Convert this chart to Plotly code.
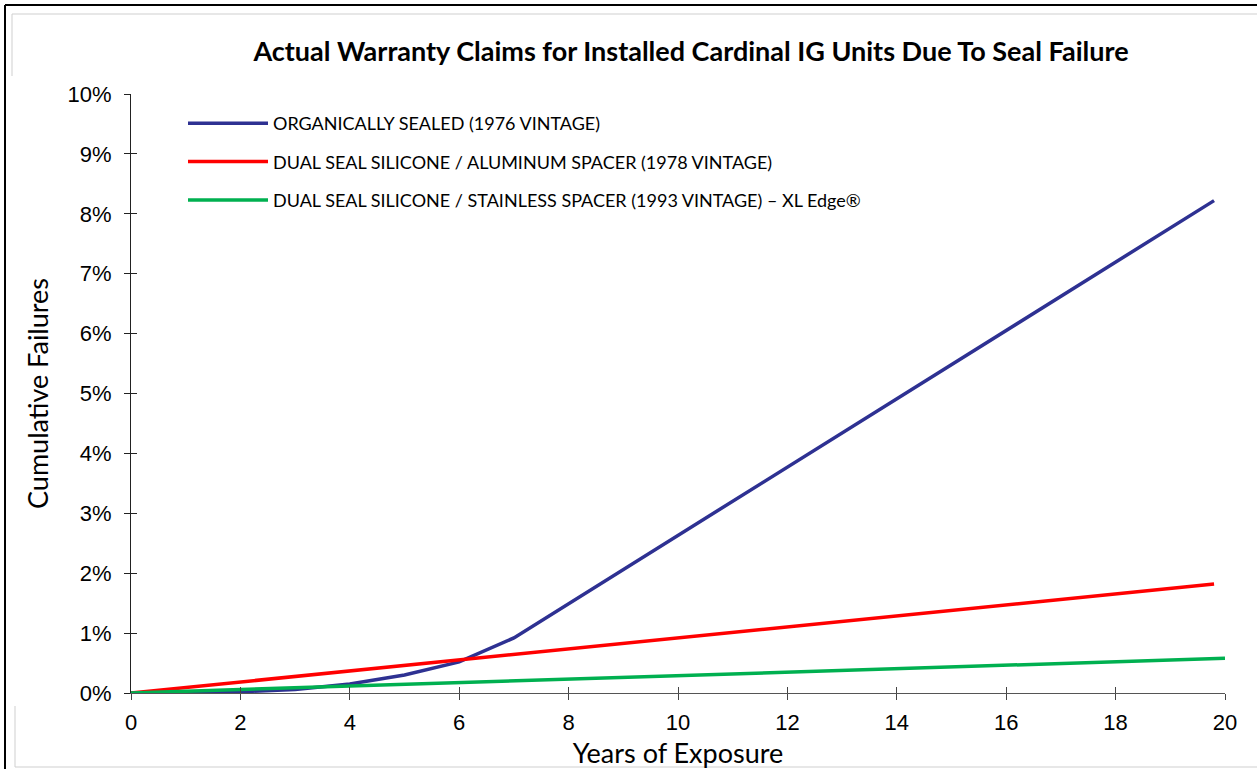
import plotly.graph_objects as go

# ---- data ----
years_organic = [0, 2, 3, 4, 5, 6, 7, 19.8]
fail_organic = [0.0, 0.0002, 0.0006, 0.0015, 0.0030, 0.0052, 0.0092, 0.0822]

years_alu = [0, 19.8]
fail_alu = [0.0, 0.0182]

years_ss = [0, 20]
fail_ss = [0.0, 0.0058]

names = [
    "ORGANICALLY SEALED (1976 VINTAGE)",
    "DUAL SEAL SILICONE / ALUMINUM SPACER (1978 VINTAGE)",
    "DUAL SEAL SILICONE / STAINLESS SPACER (1993 VINTAGE) \u2013 XL Edge\u00ae",
]
colors = ["#2E3192", "#FF0000", "#00B050"]

x_ticks = list(range(0, 21, 2))
y_ticks = [i / 100 for i in range(0, 11)]

W, H = 1257, 769
L, R, T, B = 131, 32, 94, 76

fig = go.Figure()
for i, (xs, ys) in enumerate([(years_organic, fail_organic), (years_alu, fail_alu), (years_ss, fail_ss)]):
    fig.add_trace(go.Scatter(
        x=xs, y=ys, mode="lines", name=names[i],
        line=dict(color=colors[i], width=3.5),
        legendgroup=str(i),
    ))
# empty trace to host the inner-tick axes
fig.add_trace(go.Scatter(x=[], y=[], xaxis="x2", yaxis="y2", showlegend=False, hoverinfo="skip"))

axis_font = dict(family="Liberation Sans, Arial", size=22, color="#000")
cal = "Lato, Carlito, Calibri"
fig.update_layout(
    width=W, height=H,
    margin=dict(l=L, r=R, t=T, b=B, pad=0, autoexpand=False),
    paper_bgcolor="white", plot_bgcolor="white",
    title=dict(
        text="<b>Actual Warranty Claims for Installed Cardinal IG Units Due To Seal Failure</b>",
        font=dict(family=cal, size=27, color="#000"),
        x=691 / W, xanchor="center", xref="container", y=1 - 52 / H, yanchor="middle",
    ),
    xaxis=dict(
        range=[0, 20], tickvals=x_ticks, ticks="outside", ticklen=6, tickcolor="#444",
        showgrid=False, zeroline=False, showline=True, linecolor="#555", linewidth=1,
        tickfont=axis_font, ticklabelstandoff=4, automargin=False,
        title=dict(text="Years of Exposure", font=dict(family=cal, size=27, color="#000"), standoff=14),
    ),
    yaxis=dict(
        range=[0, 0.10], tickvals=y_ticks, tickformat=".0%", ticks="outside", ticklen=6, tickcolor="#222",
        showgrid=False, zeroline=False, showline=True, linecolor="#222", linewidth=1,
        tickfont=axis_font, ticklabelstandoff=8, automargin=False,
        title=dict(text="Cumulative Failures", font=dict(family=cal, size=27, color="#000"), standoff=11),
    ),
    xaxis2=dict(overlaying="x", range=[0, 20], tickvals=x_ticks, ticks="inside", ticklen=6, tickcolor="#444",
                showticklabels=False, showgrid=False, zeroline=False, showline=False, automargin=False),
    yaxis2=dict(overlaying="y", range=[0, 0.10], tickvals=y_ticks, ticks="inside", ticklen=6, tickcolor="#222",
                showticklabels=False, showgrid=False, zeroline=False, showline=False, automargin=False),
    legend=dict(
        x=(183 - L) / (W - L - R), y=(H - B - 105) / (H - T - B), xanchor="left", yanchor="top",
        font=dict(family=cal, size=18, color="#000"),
        bgcolor="rgba(0,0,0,0)", tracegroupgap=12, traceorder="grouped", itemwidth=80,
    ),
    showlegend=True,
)

pw, ph = W - L - R, H - T - B
def px(x):
    return (x - L) / pw
def py(y):
    return (H - B - y) / ph

frame = [
    (5, 5, W, 5, "#000", 2),
    (5, 5, 5, H, "#000", 2),
    (12, 14, W, 14, "#cfcfcf", 1),
    (12, 14, 12, 76, "#cfcfcf", 1),
    (15, 767, W, 767, "#cfcfcf", 1),
    (15, 706, 15, 767, "#cfcfcf", 1),
]
for x0, y0, x1, y1, c, w in frame:
    fig.add_shape(type="line", xref="paper", yref="paper",
                  x0=px(x0), y0=py(y0), x1=px(x1), y1=py(y1),
                  line=dict(color=c, width=w), layer="above")

fig.write_html("out.html", config={"displayModeBar": False},
               post_script="document.body.style.margin='0';document.body.style.overflow='hidden';")
